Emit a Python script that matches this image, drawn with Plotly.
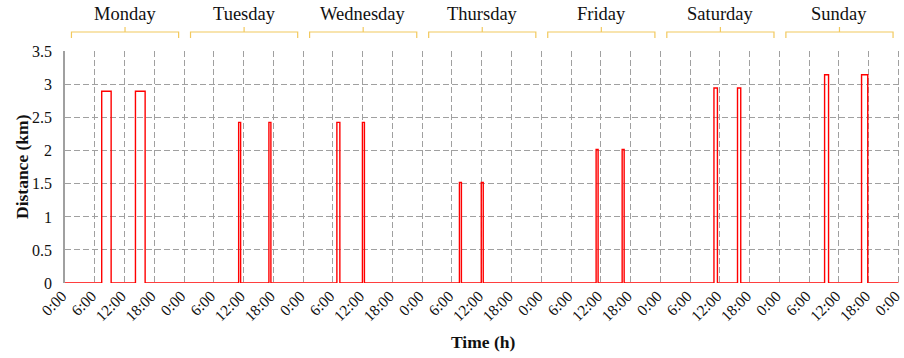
import plotly.graph_objects as go

# Weekly commute distances: one pulse per trip (start hour, end hour, distance)
days = ["Monday", "Tuesday", "Wednesday", "Thursday", "Friday", "Saturday", "Sunday"]
trip_start_h = [[7.4, 14.2], [11.0, 17.1], [6.8, 11.95], [7.5, 11.9], [11.05, 16.3], [10.8, 15.55], [9.1, 16.55]]
trip_end_h = [[9.3, 16.15], [11.4, 17.5], [7.4, 12.35], [7.9, 12.3], [11.45, 16.7], [11.5, 16.2], [9.9, 17.8]]
trip_km = [[2.9, 2.9], [2.43, 2.43], [2.43, 2.43], [1.52, 1.52], [2.02, 2.02], [2.95, 2.95], [3.15, 3.15]]

hour_ticks = [h for h in range(0, 169, 6)]
hour_labels = ["0:00", "6:00", "12:00", "18:00"] * 7 + ["0:00"]
y_ticks = [0, 0.5, 1, 1.5, 2, 2.5, 3, 3.5]
y_labels = ["0", "0.5", "1", "1.5", "2", "2.5", "3", "3.5"]

# Build a step trace: zero baseline with rectangular pulses
xs, ys = [0], [0]
for d in range(len(days)):
    for s, e, v in zip(trip_start_h[d], trip_end_h[d], trip_km[d]):
        t0, t1 = 24 * d + s, 24 * d + e
        xs += [t0, t0, t1, t1]
        ys += [0, v, v, 0]
xs.append(168)
ys.append(0)

fig = go.Figure()
fig.add_trace(go.Scatter(x=xs, y=ys, mode="lines",
                         line=dict(color="#ff0000", width=1.4),
                         hoverinfo="skip", showlegend=False, cliponaxis=False))

serif = "Liberation Serif"
grid_col = "#a0a0a0"
bracket_col = "#f2c95e"

shapes = []
annotations = []
for d, name in enumerate(days):
    a, b = 24 * d + 1.3, 24 * d + 22.9
    c = (a + b) / 2
    # day bracket above the plot: bar with end legs and a centre nub (pixel offsets)
    shapes.append(dict(type="path", xref="x", yref="paper", ysizemode="pixel", yanchor=1,
                       path=f"M {a},13 L {a},19 L {b},19 L {b},13",
                       line=dict(color=bracket_col, width=1.2)))
    shapes.append(dict(type="line", xref="x", yref="paper", ysizemode="pixel", yanchor=1,
                       x0=c, x1=c, y0=19, y1=24, line=dict(color=bracket_col, width=1.2)))
    annotations.append(dict(text=name, x=c, xref="x", y=1, yref="paper",
                            yanchor="middle", yshift=37, showarrow=False,
                            font=dict(family=serif, size=18.5, color="#111")))

annotations.append(dict(text="<b>Distance (km)</b>", x=0, xref="paper", xshift=-43,
                        y=0.5, yref="paper", textangle=-90, showarrow=False,
                        xanchor="center", yanchor="middle",
                        font=dict(family=serif, size=17.5, color="#111")))
annotations.append(dict(text="<b>Time (h)</b>", x=0.5, xref="paper", y=0, yref="paper",
                        yshift=-59, showarrow=False, yanchor="middle",
                        font=dict(family=serif, size=17.5, color="#111")))

fig.update_layout(
    width=904, height=358,
    margin=dict(l=65, r=4, t=51, b=75),
    paper_bgcolor="white", plot_bgcolor="white",
    font=dict(family=serif, size=16, color="#111"),
    shapes=shapes, annotations=annotations,
    xaxis=dict(range=[0, 168.3], tickmode="array", tickvals=hour_ticks, ticktext=hour_labels,
               tickangle=-45, showgrid=True, gridcolor=grid_col, griddash="6px,3px",
               gridwidth=1, zeroline=False, showline=False, ticks="",
               ticklabeloverflow="allow", automargin=False, ticklabelshift=-3,
               tickfont=dict(family=serif, size=15.5, color="#111")),
    yaxis=dict(range=[0, 3.51], tickmode="array", tickvals=y_ticks, ticktext=y_labels,
               showgrid=True, gridcolor=grid_col, griddash="6px,3px", gridwidth=1,
               zeroline=False, showline=True, linecolor="#a0a0a0", linewidth=1.5,
               ticks="", ticklabelstandoff=8, automargin=False,
               tickfont=dict(family=serif, size=16, color="#111")),
)

fig.write_html("out.html")
